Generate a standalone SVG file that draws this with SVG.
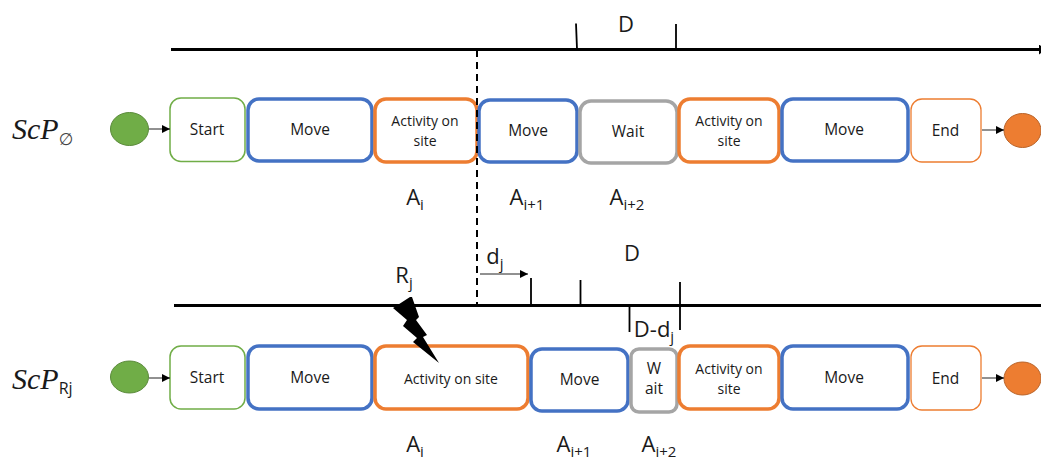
<svg xmlns="http://www.w3.org/2000/svg" width="1041" height="457" viewBox="0 0 1041 457">
<style>
text{font-family:"Open Sans","Noto Sans",sans-serif;fill:#1a1a1a;text-anchor:middle}
.n{font-size:15.500px}.s{font-size:14px}.l{font-size:22px}.sub{font-size:15px}
.r{fill:#fff}
.blue{stroke:#4472c4;stroke-width:3.500px}.or{stroke:#ed7d31;stroke-width:3.500px}.gr{stroke:#a5a5a5;stroke-width:3.500px}
.st{stroke:#70ad47;stroke-width:1.500px}.en{stroke:#ed7d31;stroke-width:1.300px}
.gc{fill:#70ad47;stroke:#5a8a3a;stroke-width:1}.oc{fill:#ed7d31;stroke:#b9642a;stroke-width:1}
.ax{stroke:#000;stroke-width:3;fill:none}.t{stroke:#000;stroke-width:1.800;fill:none}
.c{stroke:#222;stroke-width:1;fill:none;marker-end:url(#a)}
.m{font-family:"Liberation Serif",serif;font-style:italic;font-size:30px;text-anchor:start}
</style>
<defs>
<marker id="a" markerWidth="9" markerHeight="8" refX="8" refY="4" orient="auto" markerUnits="userSpaceOnUse"><path d="M0 0L8 4L0 8Z" fill="#000"/></marker>
<marker id="b" markerWidth="8" markerHeight="10" refX="5" refY="5" orient="auto" markerUnits="userSpaceOnUse"><path d="M0 0L7 5L0 10Z" fill="#000"/></marker>
</defs>

<g id="label-scp0"><text class="m" x="12" y="139">ScP<tspan font-size="17" dy="6" fill="#444" font-family="DejaVu Sans" font-style="normal">∅</tspan></text></g>
<g id="start-node-1"><ellipse class="gc" cx="129.500" cy="129" rx="19" ry="16.500"/></g>
<g id="start-1"><rect class="r st" x="170" y="98" width="75" height="63.500" rx="11"/><text class="n" x="207" y="135">Start</text></g>
<g id="move-1"><rect class="r blue" x="248" y="99" width="124" height="62" rx="11"/><text class="n" x="310" y="135">Move</text></g>
<g id="activity-1"><rect class="r or" x="375" y="99" width="102" height="63" rx="11"/><text class="s" x="425" y="126">Activity on</text><text class="s" x="425" y="146">site</text></g>
<g id="move-2"><rect class="r blue" x="479" y="100" width="98" height="62" rx="11"/><text class="n" x="528" y="136">Move</text></g>
<g id="wait-1"><rect class="r gr" x="580" y="101" width="97" height="62" rx="11"/><text class="n" x="628" y="137">Wait</text></g>
<g id="activity-2"><rect class="r or" x="679" y="99" width="100" height="63" rx="11"/><text class="s" x="729" y="126">Activity on</text><text class="s" x="729" y="146">site</text></g>
<g id="move-3"><rect class="r blue" x="782" y="99" width="126" height="62" rx="11"/><text class="n" x="844" y="135">Move</text></g>
<g id="end-1"><rect class="r en" x="911" y="99" width="70" height="63" rx="11"/><text class="n" x="945.500" y="135.500">End</text></g>
<g id="end-node-1"><ellipse class="oc" cx="1022.500" cy="130.500" rx="18.500" ry="17"/></g>

<g id="label-d1"><text class="l" x="626" y="32">D</text></g>
<g id="label-a1"><text class="l" x="415" y="205">A<tspan class="sub" dy="5">i</tspan></text></g>
<g id="label-a2"><text class="l" x="527" y="205">A<tspan class="sub" dy="5">i+1</tspan></text></g>
<g id="label-a3"><text class="l" x="627" y="205">A<tspan class="sub" dy="5">i+2</tspan></text></g>

<g id="label-rj"><text class="l" x="404" y="283">R<tspan class="sub" dy="5">j</tspan></text></g>
<g id="label-dj"><text class="l" x="495" y="264">d<tspan class="sub" dy="5">j</tspan></text></g>
<g id="label-d2"><text class="l" x="632" y="261">D</text></g>
<g id="label-ddj"><text class="l" x="654" y="337">D-d<tspan class="sub" dy="5">j</tspan></text></g>

<g id="label-scprj"><text class="m" x="12" y="389">ScP<tspan font-size="16" dy="5" font-family="Open Sans" font-style="normal">Rj</tspan></text></g>
<g id="start-node-2"><ellipse class="gc" cx="129.500" cy="377" rx="19" ry="16"/></g>
<g id="start-2"><rect class="r st" x="170" y="346" width="75" height="63" rx="11"/><text class="n" x="207" y="383">Start</text></g>
<g id="move-4"><rect class="r blue" x="248" y="346" width="124" height="63" rx="11"/><text class="n" x="310" y="383">Move</text></g>
<g id="activity-3"><rect class="r or" x="375" y="346" width="153" height="63" rx="11"/><text class="s" x="451" y="384">Activity on site</text></g>
<g id="move-5"><rect class="r blue" x="531" y="349" width="97" height="62" rx="11"/><text class="n" x="579.500" y="385">Move</text></g>
<g id="wait-2"><rect class="r gr" x="631" y="349" width="46" height="63" rx="8"/><text class="n" x="654" y="374">W</text><text class="n" x="654" y="394">ait</text></g>
<g id="activity-4"><rect class="r or" x="679" y="346" width="100" height="63" rx="11"/><text class="s" x="729" y="374">Activity on</text><text class="s" x="729" y="394">site</text></g>
<g id="move-6"><rect class="r blue" x="782" y="346" width="126" height="63" rx="11"/><text class="n" x="844" y="383">Move</text></g>
<g id="end-2"><rect class="r en" x="911" y="346" width="70" height="64" rx="11"/><text class="n" x="945.500" y="384">End</text></g>
<g id="end-node-2"><ellipse class="oc" cx="1022.500" cy="378.500" rx="18.500" ry="16.500"/></g>

<g id="label-a4"><text class="l" x="415" y="452">A<tspan class="sub" dy="5">i</tspan></text></g>
<g id="label-a5"><text class="l" x="574" y="452">A<tspan class="sub" dy="5">i+1</tspan></text></g>
<g id="label-a6"><text class="l" x="659" y="452">A<tspan class="sub" dy="5">i+2</tspan></text></g>

<g id="connectors">
<path class="ax" d="M171 49.500H1044" marker-end="url(#b)"/>
<path class="t" d="M576 23.500L577 49M676 24V49"/>
<path d="M477 50V306" stroke="#000" stroke-width="2" stroke-dasharray="7 5" fill="none"/>
<path class="ax" d="M174 305.500H1041"/>
<path class="t" d="M531 278V305M580.500 280V305M629.500 306V332M680 282V330"/>
<path class="c" d="M480 274H528"/>
<path class="c" d="M149 129H170"/>
<path class="c" d="M982 130H1004"/>
<path class="c" d="M149 378H170"/>
<path class="c" d="M982 378H1004"/>
</g>

<g id="lightning"><path d="M410 297L412 297L419 317L416 320L427 335L423 337L439 363L413 342L417 338L403 326L407 320L393 308Z" fill="#000"/></g>
</svg>
